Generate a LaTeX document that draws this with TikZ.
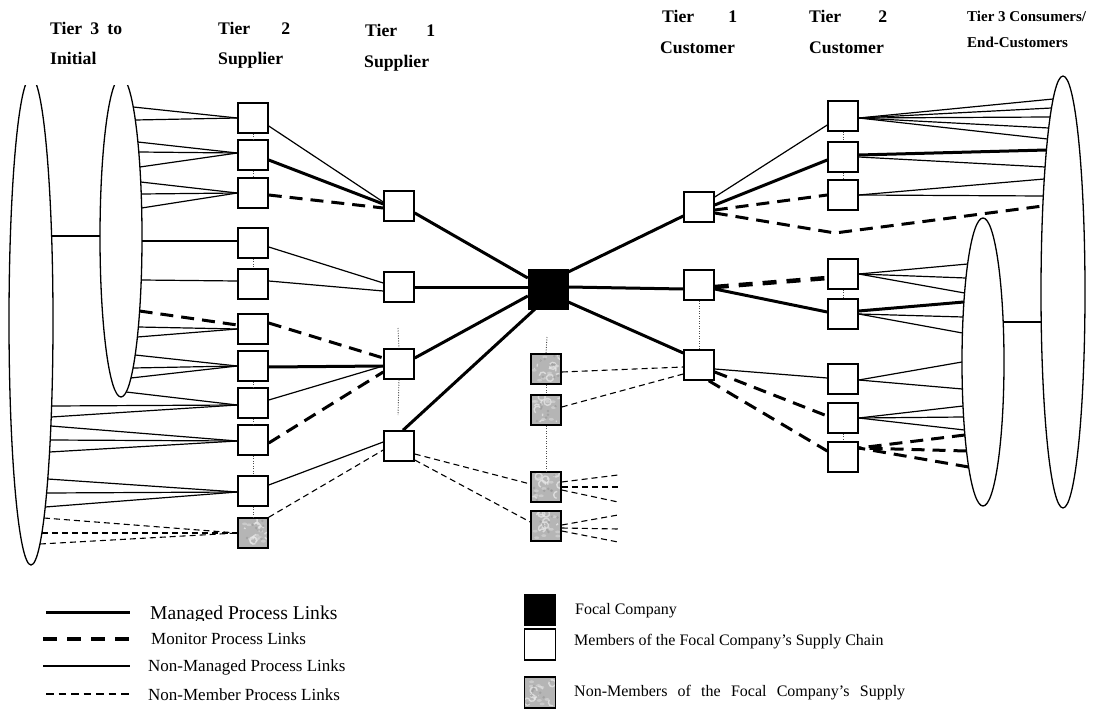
\documentclass[tikz,border=0pt]{standalone}
\usepackage{fontspec}
\setmainfont{Liberation Serif}
\usetikzlibrary{shapes.geometric,calc}

% point on the border of an upright ellipse at height y
% #1 name, #2 cx, #3 cy, #4 half width, #5 half height, #6 y, #7 side (+1 right, -1 left)
\newcommand\edgept[7]{%
  \pgfmathsetmacro\edgex{#2+(#7)*#4*sqrt(max(0,1-((#6-#3)/#5)^2))}%
  \coordinate (#1) at (\edgex,#6);}
\newcommand\ptLI[2]{\edgept{#1}{121}{237}{21}{160}{#2}{1}}
\newcommand\ptLO[2]{\edgept{#1}{31}{321}{22}{244}{#2}{1}}
\newcommand\ptRI[2]{\edgept{#1}{983}{362}{21}{144}{#2}{-1}}
\newcommand\ptRO[2]{\edgept{#1}{1063}{292}{22}{216}{#2}{-1}}
% fan of links: ellipse, style, box, anchor, offset at box, heights on the ellipse
\newcommand\fan[6]{%
  \foreach \yy [count=\k] in {#6} {%
    \csname pt#1\endcsname{#3-#1-\k}{\yy}%
    \draw[#2] (#3-#1-\k) -- ($(#3.#4)+(0,#5)$);}}

\begin{document}
\begin{tikzpicture}[x=1bp,y=-1bp,
  member/.style={draw, fill=white, line width=1.5bp, minimum size=30bp, inner sep=0pt},
  nonmem/.style={member, fill=gray!58, path picture={
      \foreach \i in {1,...,9} {\draw[gray!18, line width=1.4bp, opacity=.75]
        ($(path picture bounding box.center)+(rand*12,rand*12)$)
        arc [start angle=rand*180, delta angle=140, radius=3.5bp];}
      \foreach \i in {1,...,8} {\fill[gray!30, opacity=.6]
        ($(path picture bounding box.center)+(rand*12,rand*12)$) ellipse [x radius=2.5bp, y radius=1.4bp];}
      \foreach \i in {1,...,8} {\fill[gray!85, opacity=.55]
        ($(path picture bounding box.center)+(rand*13,rand*13)$) circle [radius=1.4bp];}}},
  focal/.style={draw, fill=black, minimum size=40bp, inner sep=0pt},
  oval/.style={draw, ellipse, line width=1.3bp, inner sep=0pt},
  managed/.style={line width=3bp},
  monitor/.style={line width=3bp, dash pattern=on 13bp off 8bp},
  heavymon/.style={line width=4.5bp, dash pattern=on 14bp off 10bp},
  nonman/.style={line width=1.2bp},
  nonmemln/.style={line width=1.1bp, dash pattern=on 6bp off 4bp},
  dotv/.style={line width=0.9bp, dash pattern=on 1bp off 1.5bp, gray!60!black},
  hdr/.style={anchor=base west, inner sep=0pt, font=\fontsize{17.7bp}{21bp}\selectfont\bfseries},
  hdrs/.style={anchor=base west, inner sep=0pt, font=\fontsize{15bp}{18bp}\selectfont\bfseries},
  lgtext/.style={anchor=base west, inner sep=0pt, font=\fontsize{17bp}{20bp}\selectfont},
  keytext/.style={anchor=base west, inner sep=0pt, font=\fontsize{16bp}{19bp}\selectfont}]

\path[use as bounding box, fill=white] (0,0) rectangle (1094,709);

% ---------- outer groups ----------
\begin{scope}
  \clip (0,86) rectangle (200,600);
  \node[oval, minimum width=44bp, minimum height=488bp] (lo) at (31,321) {};
  \node[oval, minimum width=42bp, minimum height=320bp] (li) at (121,237) {};
\end{scope}
\node[oval, minimum width=44bp, minimum height=432bp] (ro) at (1063,292) {};
\node[oval, minimum width=42bp, minimum height=288bp] (ri) at (983,362) {};

\ptLO{lomid}{236}
\edgept{limid}{121}{237}{21}{160}{236}{-1}
\draw[nonman] (lomid) -- (limid);
\edgept{rimid}{983}{362}{21}{144}{322}{1}
\ptRO{romid}{322}
\draw[nonman] (rimid) -- (romid);

% ---------- companies ----------
\foreach \n/\y in {s2a/118,s2b/155,s2c/193,s2d/243,s2e/284,s2f/329,s2g/366,s2h/403,s2i/440,s2j/491}
  \node[member] (\n) at (253,\y) {};
\pgfmathsetseed{11}
\node[nonmem] (s2k) at (253,533) {};
\foreach \n/\y in {s1a/206,s1b/287,s1c/364,s1d/446}
  \node[member] (\n) at (399,\y) {};
\node[focal] (fc) at (548,289) {};
\foreach \n/\y in {ga/369,gb/410,gc/487,gd/526}
  \node[nonmem] (\n) at (546,\y) {};
\foreach \n/\y in {c1a/207,c1b/285,c1c/365}
  \node[member] (\n) at (699,\y) {};
\foreach \n/\y in {c2a/116,c2b/157,c2c/195,c2d/274,c2e/314,c2f/379,c2g/418,c2h/457}
  \node[member] (\n) at (843,\y) {};

% ---------- initial suppliers to tier 2 ----------
\fan{LI}{nonman}{s2a}{west}{0}{107,120}
\fan{LI}{nonman}{s2b}{west}{-2}{142,152,167}
\fan{LI}{nonman}{s2c}{west}{0}{182,194,208}
\fan{LI}{nonman}{s2d}{west}{-2}{241}
\fan{LI}{nonman}{s2e}{west}{-3}{280}
\fan{LI}{nonman}{s2f}{west}{0}{327,337}
\fan{LI}{monitor}{s2f}{west}{-4}{311}
\fan{LI}{nonman}{s2g}{west}{0}{355,368,378}
\fan{LI}{nonman}{s2h}{west}{2}{392}
\fan{LO}{nonman}{s2h}{west}{2}{406,417}
\fan{LO}{nonman}{s2i}{west}{1}{426,440,452}
\fan{LO}{nonman}{s2j}{west}{1}{479,493,507}
\fan{LO}{nonmemln}{s2k}{west}{0}{518,533,544}

% ---------- tier 2 to tier 1 suppliers ----------
\draw[nonman]   ($(s2a.east)+(0,8)$)  -- ($(s1a.west)+(0,-4)$);
\draw[managed]  ($(s2b.east)+(0,5)$)  -- ($(s1a.west)+(0,-2)$);
\draw[monitor]  ($(s2c.east)+(0,2)$)  -- ($(s1a.west)+(0,2)$);
\draw[nonman]   ($(s2d.east)+(0,4)$)  -- ($(s1b.west)+(0,-4)$);
\draw[nonman]   ($(s2e.east)+(0,-3)$) -- ($(s1b.west)+(0,4)$);
\draw[monitor]  ($(s2f.east)+(0,-6)$) -- ($(s1c.west)+(0,-6)$);
\draw[managed]  ($(s2g.east)+(0,1)$)  -- ($(s1c.west)+(0,2)$);
\draw[nonman]   ($(s2h.east)+(0,-3)$) -- ($(s1c.west)+(0,2)$);
\draw[monitor]  ($(s2i.east)+(0,3)$)  -- ($(s1c.west)+(0,8)$);
\draw[nonman]   ($(s2j.east)+(0,-6)$) -- ($(s1d.west)+(0,-4)$);
\draw[nonmemln] (s2k.north east)      -- ($(s1d.west)+(0,4)$);

% ---------- tier 1 suppliers to focal company ----------
\draw[managed] ($(s1a.east)+(0,7)$)  -- ($(fc.west)+(0,-11)$);
\draw[managed] (s1b.east)            -- ($(fc.west)+(0,-2)$);
\draw[managed] ($(s1c.east)+(0,-6)$) -- ($(fc.west)+(0,7)$);
\draw[managed] ($(s1d.north)+(4,0)$) -- ($(fc.south west)+(7,0)$);

% ---------- non-member links in the middle ----------
\draw[nonmemln] ($(s1d.east)+(0,8)$)  -- ($(gc.west)+(0,-3)$);
\draw[nonmemln] ($(s1d.east)+(0,14)$) -- ($(gd.west)+(0,-4)$);
\foreach \k/\a/\b in {1/-5/475,2/0/487,3/3/502} {
  \coordinate (gcx\k) at (618,\b);
  \draw[nonmemln] ($(gc.east)+(0,\a)$) -- (gcx\k);}
\foreach \k/\a/\b in {1/-1/515,2/2/529,3/5/542} {
  \coordinate (gdx\k) at (618,\b);
  \draw[nonmemln] ($(gd.east)+(0,\a)$) -- (gdx\k);}
\draw[nonmemln] ($(ga.east)+(0,3)$)  -- ($(c1c.west)+(0,2)$);
\draw[nonmemln] ($(gb.east)+(0,-3)$) -- ($(c1c.west)+(0,9)$);

% ---------- focal company to tier 1 customers ----------
\draw[managed] ($(fc.east)+(0,-17)$) -- ($(c1a.west)+(0,9)$);
\draw[managed] ($(fc.east)+(0,-2)$)  -- ($(c1b.west)+(0,4)$);
\draw[managed] ($(fc.east)+(0,13)$)  -- ($(c1c.west)+(0,-12)$);

% ---------- tier 1 to tier 2 customers ----------
\draw[nonman]   ($(c1a.east)+(0,-10)$) -- ($(c2a.west)+(0,9)$);
\draw[managed]  ($(c1a.east)+(0,-2)$)  -- ($(c2b.west)+(0,3)$);
\draw[monitor]  ($(c1a.east)+(0,3)$)   -- (c2c.west);
\coordinate (dip) at (835,233);
\ptRO{c1ro}{206}
\draw[monitor]  ($(c1a.east)+(0,6)$)   -- (dip) -- (c1ro);
\draw[heavymon] ($(c1b.east)+(0,2)$)   -- ($(c2d.west)+(0,4)$);
\draw[managed]  ($(c1b.east)+(0,4)$)   -- ($(c2e.west)+(0,-2)$);
\draw[nonman]   ($(c1c.east)+(0,4)$)   -- ($(c2f.west)+(0,-1)$);
\draw[monitor]  ($(c1c.east)+(0,7)$)   -- ($(c2g.west)+(0,-2)$);
\draw[monitor]  ($(c1c.south east)+(-6,0)$) -- ($(c2h.west)+(0,-6)$);

% ---------- tier 2 customers to end customers ----------
\fan{RO}{nonman}{c2a}{east}{2}{99,108,117,128,139}
\fan{RO}{managed}{c2b}{east}{-2}{150}
\fan{RO}{nonman}{c2b}{east}{0}{167}
\fan{RO}{nonman}{c2c}{east}{0}{179,196}
\fan{RI}{nonman}{c2d}{east}{0}{264,278,293}
\fan{RI}{managed}{c2e}{east}{-3}{302}
\fan{RI}{nonman}{c2e}{east}{0}{317,333}
\fan{RI}{nonman}{c2f}{east}{1}{362,389}
\fan{RI}{nonman}{c2g}{east}{0}{406,417,430}
\fan{RI}{monitor}{c2h}{east}{-9}{435,451,467}

% ---------- dotted ties between neighbours ----------
\foreach \a/\b in {s2a/s2b,s2b/s2c,s2d/s2e,s2g/s2h,s2h/s2i,s2i/s2j,s2j/s2k,
                   c2a/c2b,c2b/c2c,c2d/c2e,c2g/c2h,c1b/c1c,ga/gb,gb/gc}
  \draw[dotv] (\a.south) -- (\b.north);
\coordinate (s1top) at (398,328);
\coordinate (s1bot) at (398,415);
\draw[dotv] (s1top) -- (s1c.north);
\draw[dotv] (s1c.south) -- (s1bot);
\coordinate (gtop) at (547,337);
\draw[dotv] (gtop) -- (ga.north);

% ---------- column headings ----------
\node[hdr] (h1a) at (50,35)  {\makebox[72bp][s]{Tier 3 to}};
\node[hdr] (h1b) at (50,65)  {Initial};
\node[hdr] (h2a) at (218,35) {\makebox[72bp][s]{Tier 2}};
\node[hdr] (h2b) at (218,65) {Supplier};
\node[hdr] (h3a) at (365,37) {\makebox[70bp][s]{Tier 1}};
\node[hdr] (h3b) at (364,68) {Supplier};
\node[hdr] (h4a) at (662,23) {\makebox[75bp][s]{Tier 1}};
\node[hdr] (h4b) at (660,54) {Customer};
\node[hdr] (h5a) at (809,23) {\makebox[78bp][s]{Tier 2}};
\node[hdr] (h5b) at (809,54) {Customer};
\node[hdrs] (h6a) at (967,22) {Tier 3 Consumers/};
\node[hdrs] (h6b) at (967,48) {End-Customers};

% ---------- key: links ----------
\coordinate (k1a) at (46,612);  \coordinate (k1b) at (130,612);
\coordinate (k2a) at (43,639);  \coordinate (k2b) at (131,639);
\coordinate (k3a) at (43,666);  \coordinate (k3b) at (130,666);
\coordinate (k4a) at (46,694);  \coordinate (k4b) at (130,694);
\draw[managed] (k1a) -- (k1b);
\draw[line width=3.5bp, dash pattern=on 14bp off 10bp] (k2a) -- (k2b);
\draw[nonman] (k3a) -- (k3b);
\draw[line width=1.1bp, dash pattern=on 7.5bp off 5bp] (k4a) -- (k4b);
\begin{scope}
  \clip (140,590) rectangle (360,620);
  \node[anchor=base west, inner sep=0pt, font=\fontsize{19.6bp}{22bp}\selectfont] (t1) at (150,619) {Managed Process Links};
\end{scope}
\node[lgtext] (t2) at (151,644) {Monitor Process Links};
\node[lgtext] (t3) at (148,671) {Non-Managed Process Links};
\node[lgtext] (t4) at (148,700) {Non-Member Process Links};

% ---------- key: companies ----------
\node[focal, minimum size=31bp] (kf) at (539.5,610) {};
\node[member, minimum size=31bp] (km) at (540,644.5) {};
\node[nonmem, minimum size=31bp] (kn) at (540,692.5) {};
\node[keytext] (t5) at (575,614) {Focal Company};
\node[keytext] (t6) at (574,645) {Members of the Focal Company’s Supply Chain};
\node[keytext] (t7) at (574,696) {\makebox[331bp][s]{Non-Members of the Focal Company’s Supply}};
\end{tikzpicture}
\end{document}
